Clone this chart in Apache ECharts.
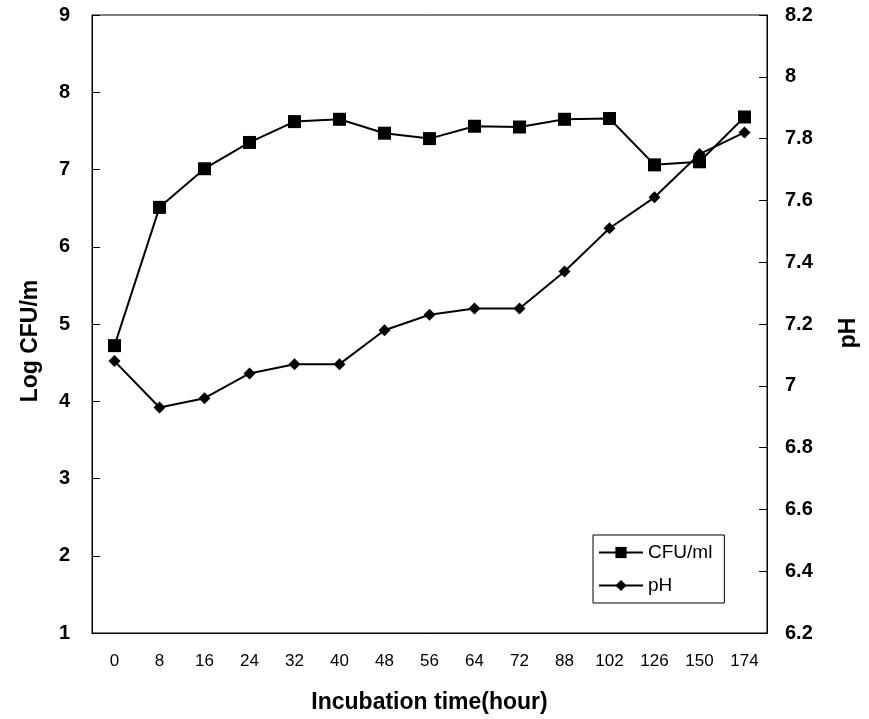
<!DOCTYPE html>
<html>
<head>
<meta charset="utf-8">
<script src="https://cdn.jsdelivr.net/npm/echarts@6/dist/echarts.min.js"></script>
<style>html,body{margin:0;padding:0;background:#fff}#c{width:869px;height:719px}</style>
</head>
<body>
<div id="c"></div>
<script>
var categories = ['0','8','16','24','32','40','48','56','64','72','88','102','126','150','174'];
var cfuValues = [4.72, 6.51, 7.01, 7.35, 7.62, 7.65, 7.47, 7.40, 7.56, 7.55, 7.65, 7.66, 7.06, 7.10, 7.68];
var phValues = [7.08, 6.93, 6.96, 7.04, 7.07, 7.07, 7.18, 7.23, 7.25, 7.25, 7.37, 7.51, 7.61, 7.75, 7.82];
var seriesNames = ['CFU/ml', 'pH'];

var chart = echarts.init(document.getElementById('c'));
var bold = {fontFamily: 'Liberation Sans, Arial, sans-serif', fontWeight: 'bold', color: '#000'};
chart.setOption({
  animation: false,
  backgroundColor: '#fff',
  grid: {left: 92, right: 102, top: 15, bottom: 86, show: true, borderColor: '#000', borderWidth: 1},
  legend: {
    orient: 'vertical', left: 593, top: 535, itemGap: 14, itemWidth: 44, itemHeight: 14,
    borderColor: '#000', borderWidth: 1, borderRadius: 0, padding: [8, 12, 8, 5],
    textStyle: {fontFamily: 'Liberation Sans, Arial, sans-serif', fontSize: 19, color: '#000'},
    data: seriesNames
  },
  xAxis: {
    type: 'category', data: categories, boundaryGap: true,
    axisLine: {lineStyle: {color: '#000', width: 1}},
    axisTick: {inside: true, length: 6, lineStyle: {color: '#000'}},
    axisLabel: {margin: 20, fontSize: 17, color: '#000', fontFamily: 'Liberation Sans Narrow, Liberation Sans, Arial, sans-serif'},
    name: 'Incubation time(hour)', nameLocation: 'middle', nameGap: 58,
    nameTextStyle: Object.assign({fontSize: 23}, bold)
  },
  yAxis: [{
    type: 'value', min: 1, max: 9, interval: 1, position: 'left',
    splitLine: {show: false},
    axisLine: {show: true, lineStyle: {color: '#000'}},
    axisTick: {show: true, inside: true, length: 8, lineStyle: {color: '#000'}},
    axisLabel: Object.assign({fontSize: 20, margin: 22}, bold),
    name: 'Log CFU/m', nameLocation: 'middle', nameGap: 50, nameRotate: 90,
    nameTextStyle: Object.assign({fontSize: 23, padding: [0, 0, 0, -34]}, bold)
  }, {
    type: 'value', min: 6.2, max: 8.2, interval: 0.2, position: 'right',
    splitLine: {show: false},
    axisLine: {show: true, lineStyle: {color: '#000'}},
    axisTick: {show: true, inside: true, length: 8, lineStyle: {color: '#000'}},
    axisLabel: Object.assign({fontSize: 20, margin: 18, formatter: function(v){return String(Math.round(v*10)/10);}}, bold),
    name: 'pH', nameLocation: 'middle', nameGap: 70, nameRotate: 90,
    nameTextStyle: Object.assign({fontSize: 23, padding: [0, 0, 0, -18]}, bold)
  }],
  series: [{
    name: seriesNames[0], type: 'line', yAxisIndex: 0, data: cfuValues,
    symbol: 'rect', symbolSize: 13,
    lineStyle: {color: '#000', width: 2}, itemStyle: {color: '#000'}
  }, {
    name: seriesNames[1], type: 'line', yAxisIndex: 1, data: phValues,
    symbol: 'diamond', symbolSize: 12,
    lineStyle: {color: '#000', width: 2}, itemStyle: {color: '#000'}
  }]
});
</script>
</body>
</html>
